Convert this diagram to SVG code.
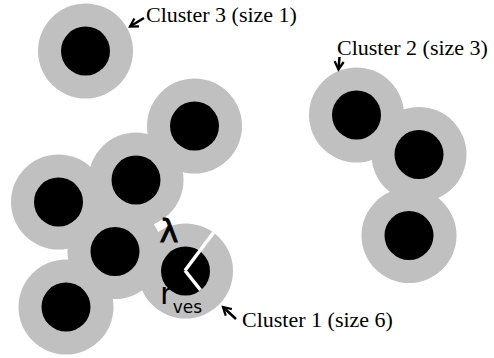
<svg xmlns="http://www.w3.org/2000/svg" width="494" height="358" viewBox="0 0 494 358">
<style>
.shell{fill:#c0c0c0}
.core{fill:#000}
.lbl{font-family:"Liberation Serif",serif;font-size:22px;fill:#000}
.sym{font-family:"DejaVu Sans",sans-serif;fill:#000}
.arr{stroke:#000;stroke-width:2.5;fill:none;marker-end:url(#ah)}
.wl{stroke:#fff;stroke-width:3.5;fill:none}
</style>
<defs>
<marker id="ah" viewBox="0 0 10 10" refX="8" refY="5" markerWidth="4.5" markerHeight="4.5" orient="auto" markerUnits="strokeWidth">
<path d="M1,1 L8,5 L1,9" fill="none" stroke="#000" stroke-width="2"/>
</marker>
</defs>
<g id="shells">
<circle class="shell" cx="85.5" cy="51" r="47.5"/>
<circle class="shell" cx="194.5" cy="126" r="47.5"/>
<circle class="shell" cx="136" cy="180" r="47.5"/>
<circle class="shell" cx="58.5" cy="202" r="47.5"/>
<circle class="shell" cx="115" cy="251.5" r="47.5"/>
<circle class="shell" cx="66" cy="307" r="47.5"/>
<circle class="shell" cx="185.5" cy="271" r="47.5"/>
<circle class="shell" cx="356.5" cy="115" r="47.5"/>
<circle class="shell" cx="419" cy="154.5" r="47.5"/>
<circle class="shell" cx="409" cy="235.5" r="47.5"/>
</g>
<g id="cluster3"><circle class="core" cx="85.5" cy="51" r="24.5"/></g>
<g id="cluster1">
<circle class="core" cx="194.5" cy="126" r="24.5"/>
<circle class="core" cx="136" cy="180" r="24.5"/>
<circle class="core" cx="58.5" cy="202" r="24.5"/>
<circle class="core" cx="115" cy="251.5" r="24.5"/>
<circle class="core" cx="66" cy="307" r="24.5"/>
<circle class="core" cx="185.5" cy="271" r="24.5"/>
</g>
<g id="cluster2">
<circle class="core" cx="356.5" cy="115" r="24.5"/>
<circle class="core" cx="419" cy="154.5" r="24.5"/>
<circle class="core" cx="409" cy="235.5" r="24.5"/>
</g>
<g id="annotations">
<line class="wl" x1="185" y1="270.5" x2="214" y2="232"/>
<line class="wl" x1="185" y1="270.5" x2="200.5" y2="290"/>
<line x1="156" y1="227.5" x2="167" y2="221.5" stroke="#fff" stroke-width="7"/>
<text class="sym" x="159.5" y="242" font-size="32" stroke="#000" stroke-width="0.8">λ</text>
<text class="sym" x="160" y="304" font-size="31">r<tspan font-size="17" dy="9">ves</tspan></text>
</g>
<g id="connectors">
<line class="arr" x1="144" y1="18" x2="130" y2="26.5"/>
<line class="arr" x1="339.5" y1="57" x2="338.5" y2="69.5"/>
<line class="arr" x1="236" y1="319" x2="223" y2="307"/>
</g>
<g id="labels">
<text class="lbl" x="146" y="22">Cluster 3 (size 1)</text>
<text class="lbl" x="337" y="55">Cluster 2 (size 3)</text>
<text class="lbl" x="242" y="327">Cluster 1 (size 6)</text>
</g>
</svg>
